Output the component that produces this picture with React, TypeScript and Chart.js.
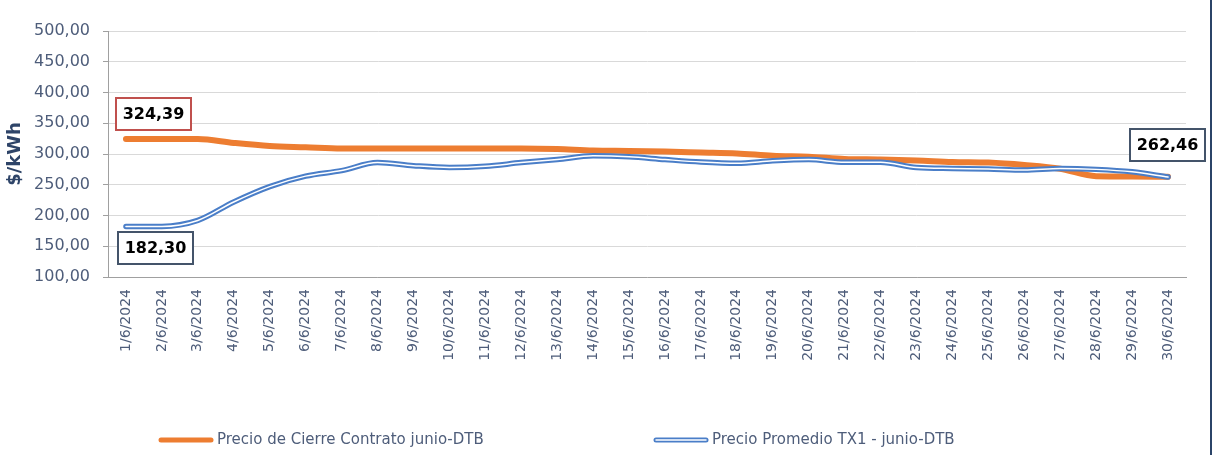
import React, { useEffect, useRef } from "react";
import { Chart, registerables } from "chart.js";

Chart.register(...registerables);

// ---------- data ----------
const categories = [
  "1/6/2024", "2/6/2024", "3/6/2024", "4/6/2024", "5/6/2024", "6/6/2024",
  "7/6/2024", "8/6/2024", "9/6/2024", "10/6/2024", "11/6/2024", "12/6/2024",
  "13/6/2024", "14/6/2024", "15/6/2024", "16/6/2024", "17/6/2024", "18/6/2024",
  "19/6/2024", "20/6/2024", "21/6/2024", "22/6/2024", "23/6/2024", "24/6/2024",
  "25/6/2024", "26/6/2024", "27/6/2024", "28/6/2024", "29/6/2024", "30/6/2024",
];

const cierreValues = [
  324.39, 324.39, 324.39, 318, 313, 311, 309, 309, 309, 309,
  309, 309, 308, 305.5, 305, 304, 302.5, 301, 297, 295.5,
  292, 291, 289.5, 287, 286, 282, 276, 264, 263.5, 263,
];

const promedioValues = [
  182.3, 182.3, 192, 222, 247, 264, 273, 286, 281, 278,
  280, 286, 291, 297, 295.5, 291, 287, 285, 289, 291,
  286.5, 286.5, 278, 276.5, 275.5, 274, 276.5, 275, 271, 262.46,
];

const seriesNames = [
  "Precio de Cierre Contrato junio-DTB",
  "Precio Promedio TX1 - junio-DTB",
];

const yMin = 100;
const yMax = 500;
const yStep = 50;
const yTitle = "$/kWh";

// ---------- styles ----------
const ORANGE = "#ED7D31";
const BLUE = "#4A7EC8";
const TEXT = "#4E5D7A";
const NAVY = "#2E4468";
const FONT = "'DejaVu Sans', sans-serif";

const fmt = (v: number) => v.toFixed(2).replace(".", ",");

// callouts: dataset index, point index, box offset from point, border colour
const callouts = [
  { ds: 0, idx: 0, dx: -11, dy: -42, border: "#C0504D" },
  { ds: 1, idx: 0, dx: -9, dy: 5, border: "#44546A" },
  { ds: 1, idx: 29, dx: -39, dy: -49, border: "#44546A" },
];

const calloutPlugin = {
  id: "callouts",
  afterDraw(chart: any) {
    const ctx = chart.ctx;
    const seriesData = [cierreValues, promedioValues];
    callouts.forEach((c) => {
      const pt = chart.getDatasetMeta(c.ds).data[c.idx];
      if (!pt) return;
      const w = 77;
      const h = 34;
      const x = Math.round(pt.x + c.dx);
      const y = Math.round(pt.y + c.dy);
      ctx.save();
      ctx.fillStyle = "#ffffff";
      ctx.fillRect(x, y, w, h);
      ctx.strokeStyle = c.border;
      ctx.lineWidth = 2;
      ctx.strokeRect(x + 1, y + 1, w - 2, h - 2);
      ctx.fillStyle = "#000000";
      ctx.font = `bold 16px ${FONT}`;
      ctx.textAlign = "center";
      ctx.textBaseline = "middle";
      ctx.fillText(fmt(seriesData[c.ds][c.idx]), x + w / 2, y + h / 2 + 1);
      ctx.restore();
    });
  },
};

const legendItems = [
  { x: 158, kind: "solid" },
  { x: 653, kind: "double" },
];

const legendPlugin = {
  id: "customLegend",
  afterDraw(chart: any) {
    const ctx = chart.ctx;
    const y = 440;
    legendItems.forEach((item, i) => {
      ctx.save();
      ctx.lineCap = "round";
      if (item.kind === "solid") {
        ctx.strokeStyle = ORANGE;
        ctx.lineWidth = 5;
        ctx.beginPath();
        ctx.moveTo(item.x + 3, y);
        ctx.lineTo(item.x + 53, y);
        ctx.stroke();
      } else {
        ctx.strokeStyle = BLUE;
        ctx.lineWidth = 5;
        ctx.beginPath();
        ctx.moveTo(item.x + 3, y);
        ctx.lineTo(item.x + 53, y);
        ctx.stroke();
        ctx.strokeStyle = "#ffffff";
        ctx.lineWidth = 1.5;
        ctx.beginPath();
        ctx.moveTo(item.x + 3, y);
        ctx.lineTo(item.x + 53, y);
        ctx.stroke();
      }
      ctx.fillStyle = TEXT;
      ctx.font = `15px ${FONT}`;
      ctx.textAlign = "left";
      ctx.textBaseline = "middle";
      ctx.fillText(seriesNames[i], item.x + 59, y);
      ctx.restore();
    });
  },
};

export default function App() {
  const canvasRef = useRef<HTMLCanvasElement | null>(null);

  useEffect(() => {
    if (!canvasRef.current) return;
    const chart = new Chart(canvasRef.current, {
      type: "line",
      data: {
        labels: categories,
        datasets: [
          {
            label: seriesNames[0],
            data: cierreValues,
            borderColor: ORANGE,
            borderWidth: 6,
            borderCapStyle: "round",
            borderJoinStyle: "round",
            pointRadius: 0,
            cubicInterpolationMode: "monotone",
            order: 3,
          },
          {
            label: seriesNames[1],
            data: promedioValues,
            borderColor: BLUE,
            borderWidth: 5.5,
            borderCapStyle: "round",
            borderJoinStyle: "round",
            pointRadius: 0,
            cubicInterpolationMode: "monotone",
            order: 2,
          },
          {
            label: seriesNames[1] + " (inner)",
            data: promedioValues,
            borderColor: "#ffffff",
            borderWidth: 1.5,
            borderCapStyle: "round",
            borderJoinStyle: "round",
            pointRadius: 0,
            cubicInterpolationMode: "monotone",
            order: 1,
          },
        ],
      },
      options: {
        animation: false,
        responsive: false,
        layout: { padding: { top: 31, right: 30, bottom: 0, left: 0 } },
        plugins: {
          legend: { display: false },
          tooltip: { enabled: false },
        },
        scales: {
          x: {
            offset: true,
            grid: { display: false },
            border: { display: true, color: "#A0A0A0", width: 1 },
            ticks: {
              minRotation: 90,
              maxRotation: 90,
              autoSkip: false,
              padding: 4,
              color: TEXT,
              font: { family: FONT, size: 14 },
            },
            afterFit(scale: any) {
              scale.height = 178;
            },
          },
          y: {
            min: yMin,
            max: yMax,
            ticks: {
              stepSize: yStep,
              padding: 13,
              color: TEXT,
              font: { family: FONT, size: 16 },
              callback: (v: any) => fmt(Number(v)),
            },
            grid: {
              color: "#D9D9D9",
              tickColor: "#A0A0A0",
              tickLength: 5,
            },
            border: { display: true, color: "#A0A0A0", width: 1 },
            title: {
              display: true,
              text: yTitle,
              color: NAVY,
              font: { family: FONT, size: 18, weight: "bold" },
              padding: { top: 5, bottom: 0 },
            },
            afterFit(scale: any) {
              scale.width = 108;
            },
          },
        },
      },
      plugins: [calloutPlugin, legendPlugin],
    });
    return () => chart.destroy();
  }, []);

  return (
    <div
      style={{
        position: "absolute",
        left: 0,
        top: 0,
        width: 1216,
        height: 455,
        background: "#ffffff",
        overflow: "hidden",
      }}
    >
      <canvas
        ref={canvasRef}
        width={1216}
        height={455}
        style={{ display: "block", width: 1216, height: 455 }}
      />
      <div
        style={{
          position: "absolute",
          left: 1210,
          top: 0,
          width: 2,
          height: 455,
          background: "#2B4468",
        }}
      />
    </div>
  );
}
